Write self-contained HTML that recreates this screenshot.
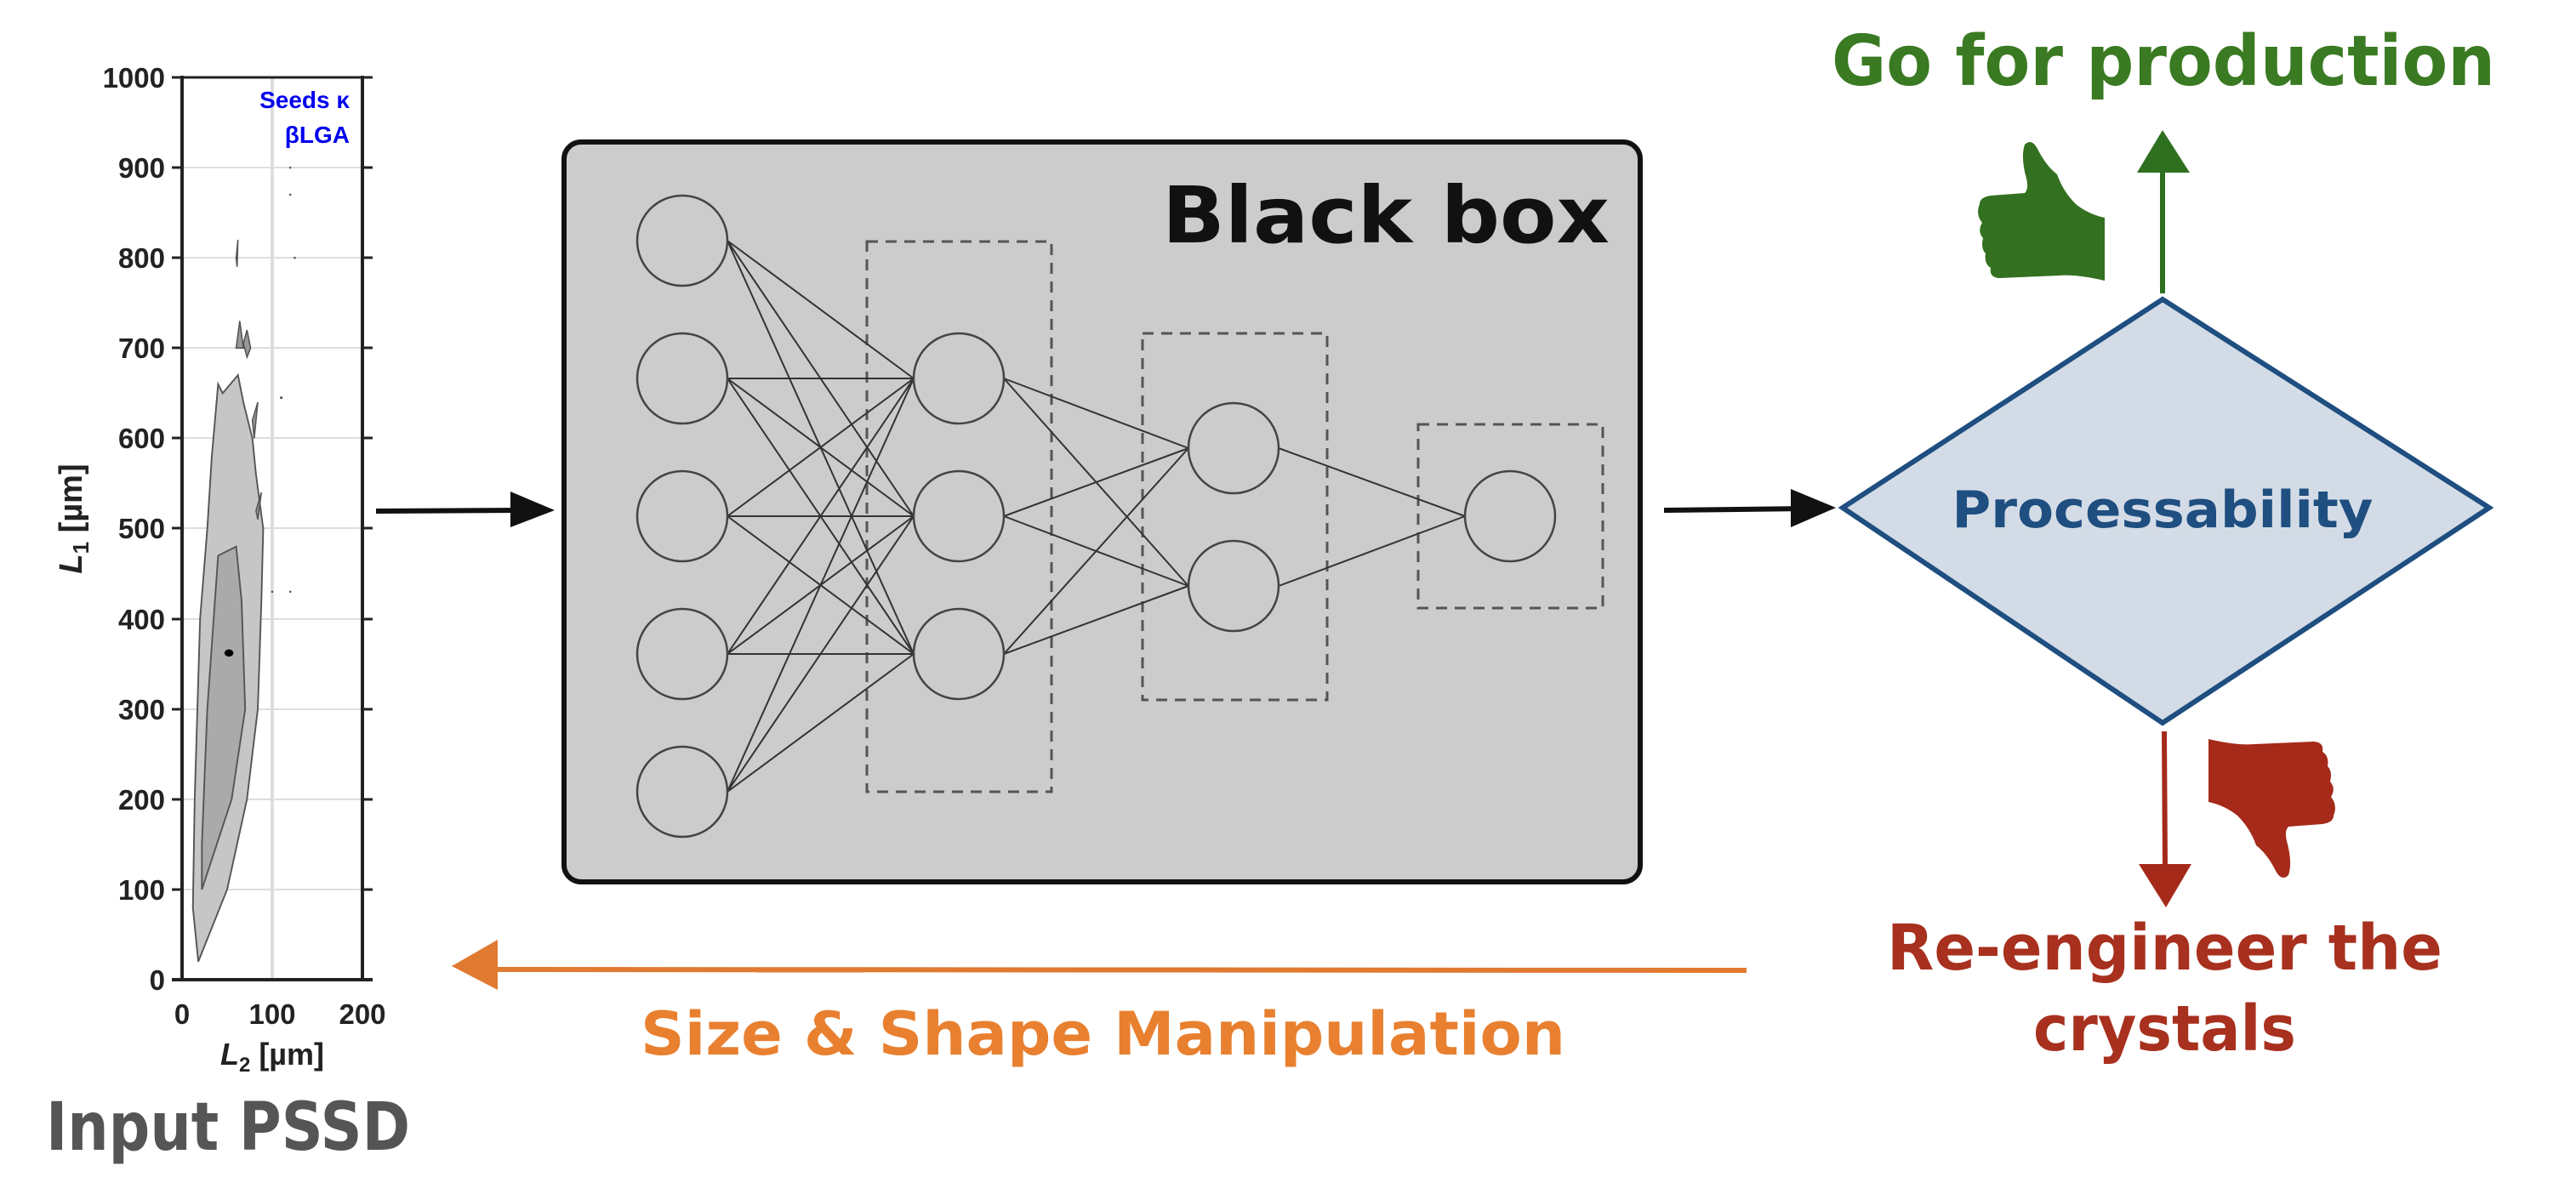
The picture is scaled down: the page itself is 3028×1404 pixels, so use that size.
<!DOCTYPE html>
<html><head><meta charset="utf-8"><style>
html,body{margin:0;padding:0;background:#fff;}
svg{display:block;}
.hand{font-family:"DejaVu Sans","Liberation Sans",sans-serif;}
</style></head><body>
<svg width="3028" height="1404" viewBox="0 0 3028 1404" xmlns="http://www.w3.org/2000/svg">
<rect width="3028" height="1404" fill="#fff"/>
<!-- PLOT -->
<g stroke="#ddd" stroke-width="2">
<line x1="214" y1="197" x2="426" y2="197"/><line x1="214" y1="303" x2="426" y2="303"/>
<line x1="214" y1="409" x2="426" y2="409"/><line x1="214" y1="515" x2="426" y2="515"/>
<line x1="214" y1="621" x2="426" y2="621"/><line x1="214" y1="728" x2="426" y2="728"/>
<line x1="214" y1="834" x2="426" y2="834"/><line x1="214" y1="940" x2="426" y2="940"/>
<line x1="214" y1="1046" x2="426" y2="1046"/>
<line x1="320" y1="91" x2="320" y2="1152" stroke-width="4"/>
</g>
<g transform="translate(214,1152) scale(1.06,-1.061)">
<path d="M18,20 L12,80 L14,200 L20,400 L28,500 L33,580 L40,660 L45,650 L62,670 L68,640 L78,600 L82,560 L90,500 L88,420 L84,300 L72,200 L50,100 Z" fill="#c6c6c6" stroke="#555" stroke-width="1.8"/>
<path d="M22,100 L22,150 L28,300 L40,470 L60,480 L66,420 L70,300 L55,200 Z" fill="#aaa" stroke="#555" stroke-width="1.8"/>
<path d="M60,700 L64,730 L68,700 Z M72,690 L76,700 L72,720 L68,705Z M80,600 L84,640 L78,620Z M84,510 L88,540 L82,520Z M60,800 L62,820 L61,790Z" fill="#999" stroke="#555" stroke-width="1.5"/>
<circle cx="120" cy="900" r="1.2" fill="#555"/><circle cx="120" cy="870" r="1.2" fill="#555"/>
<circle cx="125" cy="800" r="1.2" fill="#555"/><circle cx="110" cy="645" r="1.5" fill="#555"/>
<circle cx="100" cy="430" r="1.2" fill="#555"/><circle cx="120" cy="430" r="1.2" fill="#555"/>
<ellipse cx="52" cy="362" rx="5" ry="4" fill="#000"/>
</g>
<g stroke="#222" stroke-width="4" fill="none">
<line x1="214" y1="89" x2="214" y2="1154"/><line x1="426" y1="89" x2="426" y2="1154"/>
<line x1="202" y1="1152" x2="438" y2="1152"/>
</g>
<g stroke="#222" stroke-width="3">
<line x1="202" y1="91" x2="438" y2="91"/>
<line x1="202" y1="197" x2="214" y2="197"/><line x1="202" y1="303" x2="214" y2="303"/><line x1="202" y1="409" x2="214" y2="409"/><line x1="202" y1="515" x2="214" y2="515"/><line x1="202" y1="621" x2="214" y2="621"/><line x1="202" y1="728" x2="214" y2="728"/><line x1="202" y1="834" x2="214" y2="834"/><line x1="202" y1="940" x2="214" y2="940"/><line x1="202" y1="1046" x2="214" y2="1046"/>
<line x1="426" y1="197" x2="438" y2="197"/><line x1="426" y1="303" x2="438" y2="303"/><line x1="426" y1="409" x2="438" y2="409"/><line x1="426" y1="515" x2="438" y2="515"/><line x1="426" y1="621" x2="438" y2="621"/><line x1="426" y1="728" x2="438" y2="728"/><line x1="426" y1="834" x2="438" y2="834"/><line x1="426" y1="940" x2="438" y2="940"/><line x1="426" y1="1046" x2="438" y2="1046"/>
</g>
<g font-family="Liberation Sans, sans-serif" font-weight="bold" font-size="33" fill="#222" text-anchor="end">
<text x="194" y="103">1000</text><text x="194" y="209">900</text><text x="194" y="315">800</text><text x="194" y="421">700</text><text x="194" y="527">600</text><text x="194" y="633">500</text><text x="194" y="740">400</text><text x="194" y="846">300</text><text x="194" y="952">200</text><text x="194" y="1058">100</text><text x="194" y="1164">0</text>
</g>
<g font-family="Liberation Sans, sans-serif" font-weight="bold" font-size="33" fill="#222" text-anchor="middle">
<text x="214" y="1204">0</text><text x="320" y="1204">100</text><text x="426" y="1204">200</text>
<text x="320" y="1252" font-size="36"><tspan font-style="italic">L</tspan><tspan font-size="24" dy="8">2</tspan><tspan dy="-8"> [µm]</tspan></text>
<text transform="translate(96,610) rotate(-90)" font-size="38"><tspan font-style="italic">L</tspan><tspan font-size="26" dy="8">1</tspan><tspan dy="-8"> [µm]</tspan></text>
</g>
<g font-family="Liberation Sans, sans-serif" font-weight="bold" font-size="28" fill="#0000ee" text-anchor="end">
<text x="411" y="127">Seeds κ</text><text x="411" y="168">βLGA</text>
</g>
<text class="hand" x="54" y="1352" font-size="78" font-weight="bold" fill="#555" textLength="428" lengthAdjust="spacingAndGlyphs">Input PSSD</text>

<path d="M442,601 L610,600" stroke="#111" stroke-width="6"/>
<path d="M600,578 L652,600 L600,620 Z" fill="#111"/>

<rect x="663" y="167" width="1265" height="870" rx="20" fill="#cccccc" stroke="#111" stroke-width="6"/>
<text class="hand" x="1366" y="285" font-size="92" font-weight="bold" fill="#111" textLength="526" lengthAdjust="spacingAndGlyphs">Black box</text>
<g fill="none" stroke="#555" stroke-width="3" stroke-dasharray="13,9">
<rect x="1019" y="284" width="217" height="647"/>
<rect x="1343" y="392" width="217" height="431"/>
<rect x="1667" y="499" width="217" height="216"/>
</g>
<g stroke="#333" stroke-width="2">
<path d="M855,283 L1074,445 M855,283 L1074,607 M855,283 L1074,769
M855,445 L1074,445 M855,445 L1074,607 M855,445 L1074,769
M855,607 L1074,445 M855,607 L1074,607 M855,607 L1074,769
M855,769 L1074,445 M855,769 L1074,607 M855,769 L1074,769
M855,931 L1074,445 M855,931 L1074,607 M855,931 L1074,769
M1180,445 L1397,527 M1180,445 L1397,689 M1180,607 L1397,527 M1180,607 L1397,689 M1180,769 L1397,527 M1180,769 L1397,689
M1503,527 L1722,607 M1503,689 L1722,607"/>
</g>
<g fill="#cccccc" stroke="#444" stroke-width="2.5">
<circle cx="802" cy="283" r="53"/><circle cx="802" cy="445" r="53"/><circle cx="802" cy="607" r="53"/><circle cx="802" cy="769" r="53"/><circle cx="802" cy="931" r="53"/>
<circle cx="1127" cy="445" r="53"/><circle cx="1127" cy="607" r="53"/><circle cx="1127" cy="769" r="53"/>
<circle cx="1450" cy="527" r="53"/><circle cx="1450" cy="689" r="53"/>
<circle cx="1775" cy="607" r="53"/>
</g>

<path d="M1956,600 L2125,598" stroke="#111" stroke-width="6"/>
<path d="M2105,575 L2158,597 L2105,620 Z" fill="#111"/>

<path d="M2542,352 L2926,597 L2542,850 L2166,597 Z" fill="#d3dce6" stroke="#1f4e80" stroke-width="6"/>
<text class="hand" x="2542" y="620" font-size="60" font-weight="bold" fill="#1f4e80" text-anchor="middle" textLength="495" lengthAdjust="spacingAndGlyphs">Processability</text>

<path d="M2542,345 L2542,195" stroke="#2e7020" stroke-width="6"/>
<path d="M2512,203 L2542,153 L2574,203 Z" fill="#2e7020"/>
<text class="hand" x="2153" y="100" font-size="82" font-weight="bold" fill="#3a7a22" textLength="780" lengthAdjust="spacingAndGlyphs">Go for production</text>
<path d="M2327,240 Q2327,232 2340,230 L2380,227 Q2385,222 2382,210 Q2375,185 2380,170 Q2388,162 2395,175 Q2405,195 2418,205 Q2425,225 2440,240 Q2455,252 2474,256 L2474,330 Q2440,322 2420,324 L2350,327 Q2338,326 2340,315 Q2332,310 2334,298 Q2328,292 2331,280 Q2324,272 2330,262 Q2322,252 2327,240 Z" fill="#33701f"/>

<path d="M2544,860 L2545,1020" stroke="#a52a1a" stroke-width="6"/>
<path d="M2514,1016 L2546,1067 L2576,1016 Z" fill="#a52a1a"/>
<g transform="translate(2670,951) rotate(180) translate(-2400,-248)">
<path d="M2327,240 Q2327,232 2340,230 L2380,227 Q2385,222 2382,210 Q2375,185 2380,170 Q2388,162 2395,175 Q2405,195 2418,205 Q2425,225 2440,240 Q2455,252 2474,256 L2474,330 Q2440,322 2420,324 L2350,327 Q2338,326 2340,315 Q2332,310 2334,298 Q2328,292 2331,280 Q2324,272 2330,262 Q2322,252 2327,240 Z" fill="#a52a1a"/>
</g>
<text class="hand" x="2218" y="1140" font-size="74" font-weight="bold" fill="#a8301e" textLength="653" lengthAdjust="spacingAndGlyphs">Re-engineer the</text>
<text class="hand" x="2390" y="1235" font-size="74" font-weight="bold" fill="#a8301e" textLength="309" lengthAdjust="spacingAndGlyphs">crystals</text>

<path d="M2053,1141 L580,1140" stroke="#e07a30" stroke-width="6"/>
<path d="M585,1105 L531,1136 L585,1164 Z" fill="#e07a30"/>
<text class="hand" x="753" y="1240" font-size="70" font-weight="bold" fill="#e88030" textLength="1087" lengthAdjust="spacingAndGlyphs">Size &amp; Shape Manipulation</text>
</svg>
</body></html>
